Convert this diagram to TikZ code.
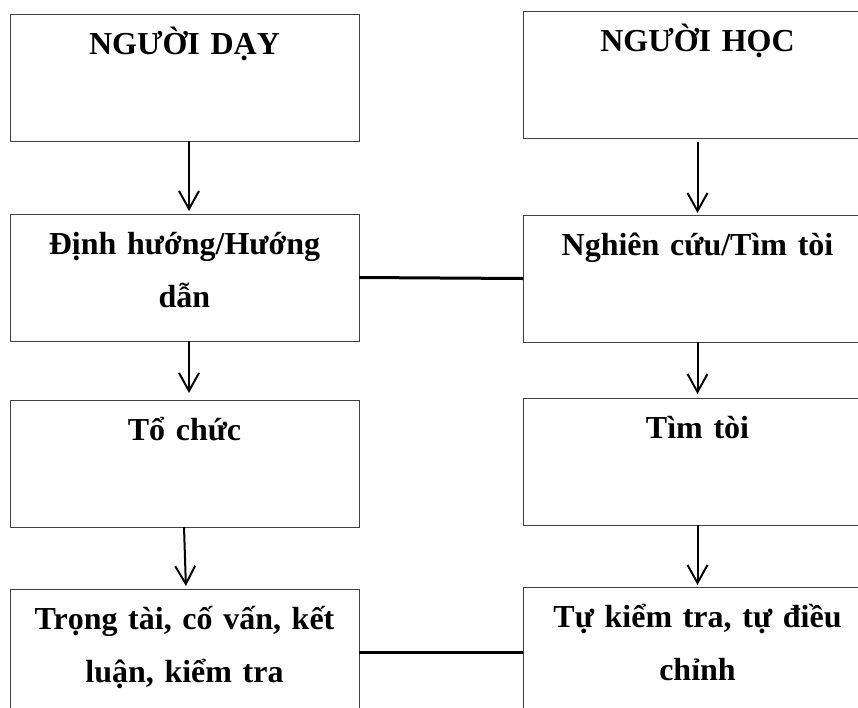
\documentclass[tikz,border=0pt]{standalone}
\usepackage{fontspec}
\setmainfont{Liberation Serif}
\usetikzlibrary{positioning,arrows.meta}

\tikzstyle{block} = [draw=black!75, line width=1pt, rectangle, inner sep=0pt, outer sep=0pt, text width=349pt, align=center, text height=40pt, text depth=87pt, font=\fontsize{32}{53}\selectfont\bfseries]
\tikzstyle{arrow} = [draw, line width=2pt, -{Straight Barb[length=18pt,width=20pt,line width=2pt]}]
\tikzstyle{link} = [draw, line width=3pt]

\begin{document}
\begin{tikzpicture}[x=1pt, y=1pt]
  \useasboundingbox (0,0) rectangle (858,-707);
  \clip (0,0) rectangle (858,-707);

  % left column
  \node [block, anchor=north west] (l1) at (10,-14) {NGƯỜI DẠY};
  \node [block, below=73pt of l1] (l2) {Định hướng/Hướng\\dẫn};
  \node [block, below=59pt of l2] (l3) {Tổ chức};
  \node [block, below=62pt of l3] (l4) {Trọng tài, cố vấn, kết\\luận, kiểm tra};

  % right column
  \node [block, right=164pt of l1, yshift=3pt] (r1) {NGƯỜI HỌC};
  \node [block, below=77pt of r1] (r2) {Nghiên cứu/Tìm tòi};
  \node [block, below=56pt of r2] (r3) {Tìm tòi};
  \node [block, below=62pt of r3] (r4) {Tự kiểm tra, tự điều\\chỉnh};

  \draw [arrow, shorten >=3pt] ([xshift=4.5pt]l1.south) to ([xshift=4.5pt]l2.north);
  \draw [arrow, shorten >=7pt] ([xshift=4.5pt]l2.south) to ([xshift=4.5pt]l3.north);
  \draw [arrow, shorten >=3pt] ([xshift=-0.5pt]l3.south) to ([xshift=1.5pt]l4.north);

  \draw [arrow, shorten <=4pt, shorten >=2pt] (r1.south) to (r2.north);
  \draw [arrow, shorten >=4pt] (r2.south) to (r3.north);
  \draw [arrow, shorten >=2pt] (r3.south) to (r4.north);

  \draw [link] (l2.east) to (r2.west);
  \draw [link] (l4.east) to (l4.east -| r4.west);
\end{tikzpicture}
\end{document}
